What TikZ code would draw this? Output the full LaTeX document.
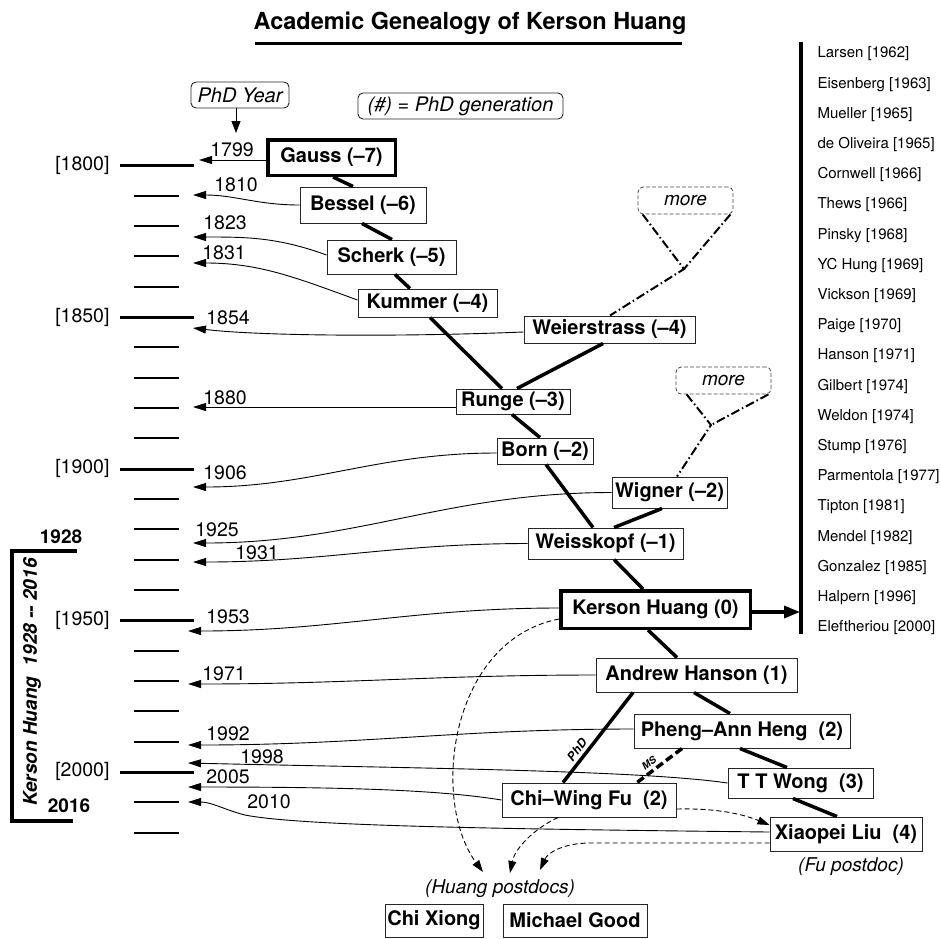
\documentclass[tikz,border=0pt]{standalone}
\usepackage{fontspec}
\setmainfont{TeX Gyre Heros}
\usetikzlibrary{arrows.meta}
\newcommand\myfs[1]{\fontsize{#1}{#1}\selectfont}
\begin{document}
\begin{tikzpicture}[x=1pt,y=-1pt,
  pbox/.style={draw=black!85, line width=1pt, fill=white, inner sep=0pt, font=\myfs{20}\bfseries},
  thickbox/.style={pbox, draw=black, line width=3.5pt},
  rbox/.style={draw=black!85, line width=0.9pt, rounded corners=5pt, fill=white, inner sep=0pt, font=\myfs{20}\itshape},
  morebox/.style={draw=black!70, dashed, dash pattern=on 4pt off 2pt, rounded corners=5pt, line width=0.8pt, inner sep=0pt, font=\myfs{19}\itshape},
  tree/.style={line width=3.5pt},
  msline/.style={line width=3.5pt, dash pattern=on 8pt off 4pt},
  dd/.style={line width=2pt, dash pattern=on 9pt off 3pt on 1.5pt off 3pt},
  yr/.style={font=\myfs{19.5}},
  yarrow/.style={line width=0.9pt, -{Triangle[length=13pt,width=8pt]}},
  pd/.style={line width=0.9pt, dash pattern=on 5pt off 3pt, -{Triangle[length=12pt,width=8pt]}},
  lst/.style={anchor=west, font=\myfs{15}},
]
\fill[white] (0,0) rectangle (941,938);
\useasboundingbox (0,0) rectangle (941,938);

% title
\node[font=\myfs{23.5}\bfseries, anchor=base] (title) at (470,29) {Academic Genealogy of Kerson Huang};
\draw[line width=3pt] (255,43) -- (682,43);

% legend boxes
\node[rbox, minimum width=98pt, minimum height=26pt] (phdyear) at (240,95) {PhD Year};
\node[rbox, minimum width=205pt, minimum height=26pt] (gen) at (460.5,106) {(\#) = PhD generation};
\coordinate (tphd) at (236,133);
\draw[line width=1pt, -{Triangle[length=12pt,width=9pt]}] ([xshift=-4pt]phdyear.south) -- (tphd);

% time line
\foreach \i in {0,5,10,15,20}
  \draw[line width=3pt] (120,{round(165.3+30.33*\i)+0.5}) -- (194,{round(165.3+30.33*\i)+0.5});
\foreach \i in {1,2,3,4,6,7,8,9,11,12,13,14,16,17,18,19,21,22}
  \draw[line width=2pt] (134,{round(165.3+30.33*\i)}) -- (179,{round(165.3+30.33*\i)});
\node[yr, anchor=east] (l1800) at (113,165.3) {[1800]};
\node[yr, anchor=east] (l1850) at (113,316.95) {[1850]};
\node[yr, anchor=east] (l1900) at (113,468.6) {[1900]};
\node[yr, anchor=east] (l1950) at (113,620.25) {[1950]};
\node[yr, anchor=east] (l2000) at (113,771.9) {[2000]};

% Kerson Huang life bracket
\draw[line width=3.5pt] (77,551) -- (12,551) -- (12,821) -- (73,821);
\node[font=\myfs{19}\bfseries] (b1928) at (61,537) {1928};
\node[font=\myfs{19}\bfseries] (b2016) at (69,806) {2016};
\node[rotate=90, font=\myfs{19}\bfseries\itshape] (khlife) at (32,682) {Kerson Huang\ \ 1928 -{}- 2016};

% people
\node[thickbox, minimum width=127.5pt, minimum height=35.5pt] (gauss) at (331.5,157.5) {Gauss (–7)};
\node[pbox, minimum width=126pt, minimum height=36pt] (bessel) at (363,205) {Bessel (–6)};
\node[pbox, minimum width=129pt, minimum height=34pt] (scherk) at (391.5,257) {Scherk (–5)};
\node[pbox, minimum width=139pt, minimum height=28pt] (kummer) at (427.5,303) {Kummer (–4)};
\node[pbox, minimum width=171pt, minimum height=27pt] (weier) at (609.5,329.5) {Weierstrass (–4)};
\node[pbox, minimum width=114pt, minimum height=25pt] (runge) at (513,401.5) {Runge (–3)};
\node[pbox, minimum width=96pt, minimum height=26pt] (born) at (545,451) {Born (–2)};
\node[pbox, minimum width=115pt, minimum height=31pt] (wigner) at (669.5,492.5) {Wigner (–2)};
\node[pbox, minimum width=155pt, minimum height=31pt] (weiss) at (605.5,543.5) {Weisskopf (–1)};
\node[thickbox, minimum width=189.5pt, minimum height=37.5pt] (kh) at (655.5,609.5) {Kerson Huang (0)};
\node[pbox, minimum width=201pt, minimum height=34pt] (ah) at (696.5,675) {Andrew Hanson (1)};
\node[pbox, minimum width=216pt, minimum height=34pt] (pah) at (742,731) {Pheng–Ann Heng\ \ (2)};
\node[pbox, minimum width=145pt, minimum height=30pt] (ttw) at (800.5,783) {T T Wong\ \ (3)};
\node[pbox, minimum width=174pt, minimum height=34pt] (cwf) at (589,800) {Chi–Wing Fu\ \ (2)};
\node[pbox, minimum width=152pt, minimum height=34pt] (xl) at (846,834) {Xiaopei Liu\ \ (4)};
\node[pbox, minimum width=98pt, minimum height=33pt] (chix) at (434,920.5) {Chi Xiong};
\node[pbox, minimum width=144pt, minimum height=33pt] (mgood) at (575,920.5) {Michael Good};
\node[font=\myfs{19}\itshape] (hpd) at (500,889) {(Huang postdocs)};
\node[font=\myfs{19}\itshape] (fpd) at (851,867) {(Fu postdoc)};

% more boxes
\node[morebox, minimum width=95pt, minimum height=27pt] (more1) at (685.5,200.5) {more};
\node[morebox, minimum width=95pt, minimum height=27pt] (more2) at (723.5,380.5) {more};
\coordinate (j1) at (684,269);
\coordinate (j2) at (711,425);
\draw[dd] ([xshift=5pt]more1.south west) -- (j1) -- ([xshift=0.5pt]weier.north);
\draw[dd] ([xshift=-3pt]more1.south east) -- (j1);
\draw[dd] ([xshift=11pt]more2.south west) -- (j2) -- ([xshift=7.5pt]wigner.north);
\draw[dd] ([xshift=-3pt]more2.south east) -- (j2);

% tree edges
\draw[tree] ([xshift=1.5pt]gauss.south) -- ([xshift=-10pt]bessel.north);
\draw[tree] ([xshift=-1pt]bessel.south) -- ([xshift=0.5pt]scherk.north);
\draw[tree] ([xshift=3.5pt]scherk.south) -- ([xshift=-17.5pt]kummer.north);
\draw[tree] ([xshift=2.5pt]kummer.south) -- ([xshift=-11pt]runge.north);
\draw[tree] ([xshift=-6.5pt]weier.south) -- ([xshift=4pt]runge.north);
\draw[tree] ([xshift=-1pt]runge.south) -- ([xshift=-5pt]born.north);
\draw[tree] ([xshift=1pt]born.south) -- ([xshift=-12.5pt]weiss.north);
\draw[tree] ([xshift=-7.5pt]wigner.south) -- ([xshift=8.5pt]weiss.north);
\draw[tree] ([xshift=8.5pt]weiss.south) -- ([xshift=-12.5pt]kh.north);
\draw[tree] ([xshift=-7.5pt]kh.south) -- ([xshift=-19.5pt]ah.north);
\draw[tree] ([xshift=-2.5pt]ah.south) -- ([xshift=-12pt]pah.north);
\draw[tree] ([xshift=-63.5pt]ah.south) -- node[sloped, above=2pt, pos=0.7, inner sep=1pt, font=\myfs{12}\bfseries\itshape] (phdlab) {PhD} ([xshift=-26pt]cwf.north);
\draw[tree] ([xshift=-2pt]pah.south) -- ([xshift=-13.5pt]ttw.north);
\draw[msline] ([xshift=-60pt]pah.south) -- node[sloped, above=2pt, pos=0.62, inner sep=1pt, font=\myfs{10}\bfseries\itshape] (mslab) {MS} ([xshift=48pt]cwf.north);
\draw[tree] ([xshift=-7.5pt]ttw.south) -- ([xshift=-9pt]xl.north);

% right list of students
\draw[line width=3.5pt] (801,42) -- (801,634);
\coordinate (kharrow) at (800,612);
\draw[line width=3.5pt, -{Triangle[length=16pt,width=12pt]}] ([yshift=-2.5pt]kh.east) -- (kharrow);
\foreach \nm [count=\i from 0] in {Larsen [1962], Eisenberg [1963], Mueller [1965], de Oliveira [1965], Cornwell [1966], Thews [1966], Pinsky [1968], YC Hung [1969], Vickson [1969], Paige [1970], Hanson [1971], Gilbert [1974], Weldon [1974], Stump [1976], Parmentola [1977], Tipton [1981], Mendel [1982], Gonzalez [1985], Halpern [1996], Eleftheriou [2000]}
  \node[lst] (s\i) at (814,{54+30.2*\i}) {\nm};

% year arrows
\coordinate (t1799) at (199,160);
\coordinate (t1810) at (193,195);
\coordinate (t1823) at (193,237);
\coordinate (t1831) at (193,263);
\coordinate (t1854) at (193,328);
\coordinate (t1880) at (193,407);
\coordinate (t1906) at (193,487);
\coordinate (t1925) at (193,543);
\coordinate (t1931) at (193,562);
\coordinate (t1953) at (188,631);
\coordinate (t1971) at (188,684);
\coordinate (t1992) at (188,745);
\coordinate (t1998) at (188,763);
\coordinate (t2005) at (188,787);
\coordinate (t2010) at (188,802);

\draw[yarrow] ([yshift=-2.5pt]gauss.west) -- (t1799);
\draw[yarrow] (bessel.west) to[out=180,in=0] (t1810);
\draw[yarrow] ([yshift=2pt]scherk.west) to[out=160,in=0] (t1823);
\draw[yarrow] ([yshift=3pt]kummer.west) to[out=160,in=0] (t1831);
\draw[yarrow] ([yshift=-2.5pt]weier.west) .. controls (400,337) and (260,336) .. (t1854);
\draw[yarrow] ([yshift=-5.5pt]runge.west) -- (t1880);
\draw[yarrow] ([yshift=-2pt]born.west) to[out=180,in=0] (t1906);
\draw[yarrow] (wigner.west) to[out=180,in=0] (t1925);
\draw[yarrow] (weiss.west) to[out=180,in=0] (t1931);
\draw[yarrow] ([yshift=1.5pt]kh.west) to[out=180,in=0] (t1953);
\draw[yarrow] (ah.west) to[out=180,in=0] (t1971);
\draw[yarrow] ([yshift=2pt]pah.west) to[out=180,in=0] (t1992);
\draw[yarrow] (ttw.west) .. controls (640,770) and (400,768) .. (t1998);
\draw[yarrow] (cwf.west) .. controls (440,790) and (350,787) .. (t2005);
\draw[yarrow] ([yshift=2pt]xl.west) .. controls (500,829) and (300,826) .. (245,815) .. controls (225,810) and (212,802) .. (t2010);

\node[yr] (y1799) at (232,150) {1799};
\node[yr] (y1810) at (236,185) {1810};
\node[yr] (y1823) at (225,223) {1823};
\node[yr] (y1831) at (224,253) {1831};
\node[yr] (y1854) at (228,318) {1854};
\node[yr] (y1880) at (225,398) {1880};
\node[yr] (y1906) at (225,473) {1906};
\node[yr] (y1925) at (217,530) {1925};
\node[yr] (y1931) at (257,553) {1931};
\node[yr] (y1953) at (228,617) {1953};
\node[yr] (y1971) at (224,674) {1971};
\node[yr] (y1992) at (228,734) {1992};
\node[yr] (y1998) at (262,757) {1998};
\node[yr] (y2005) at (228,777) {2005};
\node[yr] (y2010) at (269,802) {2010};

% postdoc arrows
\coordinate (p1) at (483,872);
\coordinate (p2) at (510,873);
\coordinate (p3) at (540,870);
\draw[pd] ([yshift=-9.5pt]kh.west) .. controls (450,640) and (430,800) .. (p1);
\draw[pd] ([xshift=-31pt]cwf.south) .. controls (535,828) and (515,848) .. (p2);
\draw[pd] ([yshift=-9pt]xl.west) -- (590,843) .. controls (565,843) and (548,852) .. (p3);
\draw[pd] ([yshift=-9pt]cwf.east) .. controls (720,808) and (745,815) .. ([yshift=9pt]xl.west);
\end{tikzpicture}
\end{document}
